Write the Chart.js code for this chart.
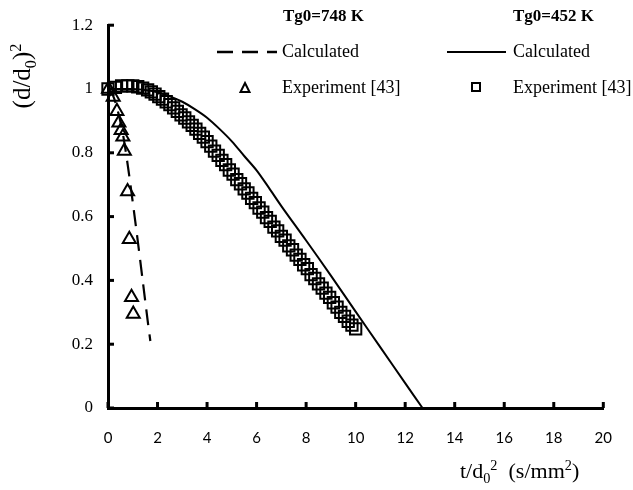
<!DOCTYPE html>
<html>
<head>
<meta charset="utf-8">
<script src="https://cdn.jsdelivr.net/npm/chart.js@4"></script>
<style>
  html, body { margin: 0; padding: 0; background: #fff; }
  #wrap { width: 633px; height: 490px; }
</style>
</head>
<body>
<div id="wrap"><canvas id="chart" width="633" height="490"></canvas></div>
<script>
// axis ticks
var xTicks = [0, 2, 4, 6, 8, 10, 12, 14, 16, 18, 20]
var yTicks = [0, 0.2, 0.4, 0.6, 0.8, 1, 1.2]

// Tg0 = 748 K
var calc748T = [0, 0.2, 0.4, 0.6, 0.8, 1.0, 1.2, 1.4, 1.6, 1.71]
var calc748Y = [1.0, 0.98, 0.93, 0.86, 0.76, 0.645, 0.525, 0.40, 0.275, 0.21]
var exp748T = [0.02, 0.21, 0.36, 0.44, 0.53, 0.60, 0.66, 0.79, 0.86, 0.95, 1.02]
var exp748Y = [1.0, 0.975, 0.93, 0.894, 0.871, 0.85, 0.806, 0.679, 0.529, 0.347, 0.295]

// Tg0 = 452 K
var calc452T = [0, 0.5, 1.0, 1.5, 2.0, 2.5, 3.0, 3.5, 4.0, 4.5, 5.0, 5.5, 6.0, 6.5, 7.0, 8.0, 9.0, 10.0, 11.0, 12.0, 12.7]
var calc452Y = [1.0, 1.0, 1.0, 0.997, 0.99, 0.977, 0.96, 0.937, 0.91, 0.875, 0.836, 0.79, 0.745, 0.69, 0.633, 0.525, 0.415, 0.302, 0.19, 0.078, 0.0]
var exp452T = [0, 0.3, 0.55, 0.8, 1.0, 1.2, 1.4, 1.6, 1.75, 1.9, 2.05, 2.2, 2.35, 2.5, 2.65, 2.8, 2.95, 3.1, 3.25, 3.4,
  3.55, 3.7, 3.85, 4.0, 4.15, 4.3, 4.45, 4.6, 4.75, 4.9, 5.05, 5.2, 5.35, 5.5, 5.65, 5.8, 5.95, 6.1, 6.25, 6.4,
  6.55, 6.7, 6.85, 7.0, 7.15, 7.3, 7.45, 7.6, 7.75, 7.9, 8.05, 8.2, 8.35, 8.5, 8.65, 8.8, 8.95, 9.1, 9.25, 9.4,
  9.55, 9.7, 9.85, 10.0]
var exp452Y = [1.0, 1.005, 1.01, 1.01, 1.01, 1.007, 1.003, 0.997, 0.991, 0.984, 0.976, 0.968, 0.96, 0.951, 0.941, 0.93, 0.919, 0.909, 0.897, 0.886,
  0.874, 0.861, 0.849, 0.835, 0.821, 0.805, 0.792, 0.776, 0.763, 0.746, 0.733, 0.716, 0.703, 0.687, 0.674, 0.657, 0.644, 0.627, 0.614, 0.597,
  0.585, 0.567, 0.555, 0.538, 0.526, 0.508, 0.496, 0.479, 0.466, 0.449, 0.437, 0.418, 0.406, 0.389, 0.376, 0.36, 0.347, 0.33, 0.316, 0.3,
  0.287, 0.272, 0.26, 0.248]

var SERIF = '"Liberation Serif", "Times New Roman", serif'

function pts(xs, ys) {
  return xs.map(function (x, i) { return { x: x, y: ys[i] } })
}

// draw text with sub / superscripts, parts = [[text, 'sub'|'sup'|'']]
function richWidth(ctx, parts, size) {
  var w = 0
  parts.forEach(function (p) {
    ctx.font = (p[1] ? size * 0.65 : size) + 'px ' + SERIF
    w += ctx.measureText(p[0]).width
  })
  return w
}
function drawRich(ctx, parts, x, y, size) {
  ctx.textBaseline = 'alphabetic'
  ctx.textAlign = 'left'
  parts.forEach(function (p) {
    var dy = 0
    if (p[1] == 'sub') dy = size * 0.22
    if (p[1] == 'sup') dy = -size * 0.38
    ctx.font = (p[1] ? size * 0.65 : size) + 'px ' + SERIF
    ctx.fillText(p[0], x, y + dy)
    x += ctx.measureText(p[0]).width
  })
}

var decorations = {
  id: 'decorations',
  afterDraw: function (chart) {
    var ctx = chart.ctx
    var xs = chart.scales.x, ys = chart.scales.y
    ctx.save()
    ctx.fillStyle = '#000'
    ctx.strokeStyle = '#000'

    // inner tick marks
    ctx.lineWidth = 3
    xTicks.forEach(function (v) {
      var px = xs.getPixelForValue(v)
      ctx.beginPath(); ctx.moveTo(px, ys.bottom); ctx.lineTo(px, ys.bottom - 6); ctx.stroke()
    })
    yTicks.forEach(function (v) {
      var py = ys.getPixelForValue(v)
      ctx.beginPath(); ctx.moveTo(xs.left, py); ctx.lineTo(xs.left + 6, py); ctx.stroke()
    })

    // axis titles
    ctx.save()
    ctx.translate(22, 76)
    ctx.rotate(-Math.PI / 2)
    var yt = [['(d/d', ''], ['0', 'sub'], [')', ''], ['2', 'sup']]
    drawRich(ctx, yt, -richWidth(ctx, yt, 25) / 2, 8, 25)
    ctx.restore()
    drawRich(ctx, [['t/d', ''], ['0', 'sub'], ['2', 'sup'], ['  (s/mm', ''], ['2', 'sup'], [')', '']], 460, 478, 22)

    // legend
    ctx.textBaseline = 'middle'
    ctx.textAlign = 'left'
    ctx.font = 'bold 17px ' + SERIF
    ctx.fillText('Tg0=748 K', 283, 17)
    ctx.fillText('Tg0=452 K', 513, 17)
    ctx.font = '18px ' + SERIF
    ctx.fillText('Calculated', 282, 52)
    ctx.fillText('Calculated', 513, 52)
    ctx.fillText('Experiment [43]', 282, 88)
    ctx.fillText('Experiment [43]', 513, 88)

    ctx.lineWidth = 2.5
    ctx.setLineDash([16, 9])
    ctx.beginPath(); ctx.moveTo(217, 52); ctx.lineTo(277, 52); ctx.stroke()
    ctx.setLineDash([])
    ctx.lineWidth = 2
    ctx.beginPath(); ctx.moveTo(447, 52); ctx.lineTo(506, 52); ctx.stroke()

    ctx.lineWidth = 2
    ctx.beginPath()
    ctx.moveTo(245, 83); ctx.lineTo(249.5, 92); ctx.lineTo(240.5, 92); ctx.closePath()
    ctx.stroke()
    ctx.strokeRect(472, 83, 8, 8)
    ctx.restore()
  }
}

var ctx = document.getElementById('chart').getContext('2d')
new Chart(ctx, {
  type: 'scatter',
  data: {
    datasets: [
      {
        label: 'Calculated 748 K',
        type: 'line',
        data: pts(calc748T, calc748Y),
        borderColor: '#000',
        borderWidth: 2.2,
        borderDash: [16, 9],
        pointRadius: 0,
        fill: false,
        tension: 0.3
      },
      {
        label: 'Experiment [43] 748 K',
        data: pts(exp748T, exp748Y),
        pointStyle: 'triangle',
        pointRadius: 7.5,
        borderWidth: 2,
        borderColor: '#000',
        backgroundColor: 'rgba(0,0,0,0)'
      },
      {
        label: 'Calculated 452 K',
        type: 'line',
        data: pts(calc452T, calc452Y),
        borderColor: '#000',
        borderWidth: 2,
        pointRadius: 0,
        fill: false,
        tension: 0.3
      },
      {
        label: 'Experiment [43] 452 K',
        data: pts(exp452T, exp452Y),
        pointStyle: 'rect',
        pointRadius: 8,
        borderWidth: 2,
        borderColor: '#000',
        backgroundColor: 'rgba(0,0,0,0)'
      }
    ]
  },
  options: {
    responsive: false,
    animation: false,
    events: [],
    clip: false,
    layout: { padding: { left: 0, top: 23, right: 13, bottom: 0 } },
    plugins: { legend: { display: false }, tooltip: { enabled: false } },
    scales: {
      x: {
        type: 'linear',
        min: 0, max: 20,
        afterBuildTicks: function (s) { s.ticks = xTicks.map(function (v) { return { value: v } }) },
        afterFit: function (s) { s.height = 82 },
        grid: { display: false, drawTicks: false },
        border: { display: true, color: '#000', width: 3 },
        ticks: {
          padding: 21,
          color: '#000',
          font: { family: 'Lato, "Open Sans", sans-serif', size: 15 },
          maxRotation: 0
        }
      },
      y: {
        type: 'linear',
        min: 0, max: 1.2,
        afterBuildTicks: function (s) { s.ticks = yTicks.map(function (v) { return { value: v } }) },
        afterFit: function (s) { s.width = 108 },
        grid: { display: false, drawTicks: false },
        border: { display: true, color: '#000', width: 3 },
        ticks: {
          padding: 15,
          color: '#000',
          font: { family: SERIF, size: 17 },
          callback: function (v) { return String(Number(v.toFixed(1))) }
        }
      }
    }
  },
  plugins: [decorations]
})
</script>
</body>
</html>
